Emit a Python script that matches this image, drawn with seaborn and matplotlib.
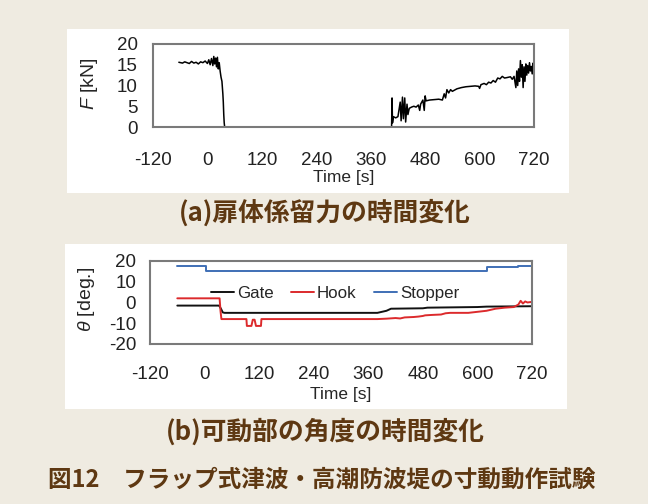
import matplotlib
matplotlib.use("Agg")
from matplotlib import pyplot as plt
from matplotlib.patches import Rectangle
import pandas as pd
import seaborn as sns

# (a) mooring force F [kN] vs time [s]
force_time = [-63, -55, -50, -45, -40, -35, -30, -25, -20, -15, -10, -5, 0, 3, 6, 9, 12, 14, 16, 18,
              20, 22, 24, 26, 28, 30, 32, 34, 35, 36, 37, 38, 406, 407, 408, 410, 415, 420, 425, 427,
              430, 432, 435, 437, 440, 442, 445, 450, 455, 460, 465, 468, 470, 475, 478, 480, 482, 490,
              500, 510, 518, 522, 525, 528, 532, 536, 540, 550, 560, 570, 580, 590, 598, 600, 603, 610,
              615, 620, 625, 630, 635, 640, 645, 650, 655, 660, 668, 672, 676, 680, 682, 684, 686, 688,
              690, 692, 694, 696, 698, 700, 702, 704, 706, 708, 710, 712, 714, 716, 718, 720]
force_kn = [15.6, 15.4, 15.7, 15.5, 15.3, 15.8, 15.4, 15.6, 15.2, 15.7, 15.5, 15.9, 15.3, 16.2, 15.0, 16.5,
            14.8, 17.0, 15.2, 16.6, 14.5, 16.8, 14.0, 15.5, 13.5, 12.0, 11.0, 8.0, 6.0, 3.0, 1.0, 0.0,
            0.0, 7.0, 1.0, 2.5, 2.2, 2.5, 6.0, 1.5, 7.2, 2.0, 7.0, 1.2, 5.5, 3.0, 4.5, 4.8, 5.0, 4.8,
            5.3, 4.0, 5.5, 6.5, 4.0, 7.5, 6.3, 6.5, 6.6, 6.7, 6.5, 8.0, 7.0, 9.0, 8.2, 9.0, 8.6, 9.2,
            9.5, 9.7, 9.8, 9.9, 9.8, 9.3, 10.2, 10.5, 10.2, 10.8, 10.6, 11.2, 10.8, 11.8, 11.6, 12.2,
            11.8, 11.9, 12.1, 11.5, 12.2, 9.5, 13.5, 10.0, 14.0, 11.0, 16.0, 12.0, 15.0, 9.5, 14.5,
            11.0, 15.2, 12.5, 14.8, 13.0, 15.5, 13.5, 14.6, 12.8, 15.4, 11.5]

# (b) angles theta [deg.] vs time [s]
gate_time = [-60, 32, 36, 40, 44, 380, 390, 400, 410, 480, 490, 600, 620, 720]
gate_deg = [-1.5, -1.5, -3.0, -4.8, -5.0, -5.0, -4.5, -4.0, -3.0, -2.8, -2.5, -2.2, -2.0, -1.8]

hook_time = [-60, 33, 35, 37, 92, 93, 103, 106, 110, 113, 124, 125, 380, 400, 420, 430, 440, 460, 470,
             480, 485, 500, 520, 530, 540, 580, 600, 620, 640, 660, 680, 690, 695, 700, 705, 710, 720]
hook_deg = [2.0, 2.0, -4.0, -8.0, -8.0, -11.3, -11.3, -8.3, -8.3, -11.3, -11.3, -8.0, -8.0, -7.8, -7.5,
            -7.7, -7.2, -7.0, -6.8, -6.5, -6.2, -6.0, -5.8, -5.2, -5.0, -5.0, -4.5, -4.0, -3.0, -2.5,
            -2.2, -1.0, 0.8, -0.5, 0.5, 0.0, 0.3]

stopper_time = [-60, 4, 4, 620, 620, 690, 690, 720]
stopper_deg = [17.8, 17.8, 15.0, 15.0, 17.2, 17.2, 17.6, 17.6]

series_names = ["Gate", "Hook", "Stopper"]
series_colors = ["#111111", "#dc2a2c", "#3f6fb5"]

x_ticks = [-120, 0, 120, 240, 360, 480, 600, 720]
caption_a = "(a)扉体係留力の時間変化"
caption_b = "(b)可動部の角度の時間変化"
caption_fig = "図12　フラップ式津波・高潮防波堤の寸動動作試験"

sns.set_style("white")
plt.rcParams["font.family"] = ["Liberation Sans", "DejaVu Sans"]
plt.rcParams["axes.unicode_minus"] = False
plt.rcParams["mathtext.fontset"] = "custom"
plt.rcParams["mathtext.it"] = "Liberation Sans:italic"
plt.rcParams["mathtext.rm"] = "Liberation Sans"

bg = "#efebe1"
brown = "#5e3812"
spine_col = "#7a7a7a"
fs = 13.5

fig = plt.figure(figsize=(6.48, 5.04), dpi=100, facecolor=bg)
fig.patches.append(Rectangle((0.1034, 0.617), 0.7747, 0.3254, transform=fig.transFigure,
                             facecolor="white", edgecolor="none", zorder=-5))
fig.patches.append(Rectangle((0.1003, 0.1885), 0.7747, 0.3274, transform=fig.transFigure,
                             facecolor="white", edgecolor="none", zorder=-5))

ax1 = fig.add_axes([0.2361, 0.748, 0.588, 0.1647])
ax2 = fig.add_axes([0.2315, 0.3175, 0.5895, 0.1647])

force_df = pd.DataFrame({"time": force_time, "F": force_kn})
sns.lineplot(data=force_df, x="time", y="F", color="black", lw=1.1,
             estimator=None, sort=False, ax=ax1)

angle_df = pd.concat([
    pd.DataFrame({"time": gate_time, "theta": gate_deg, "part": "Gate"}),
    pd.DataFrame({"time": hook_time, "theta": hook_deg, "part": "Hook"}),
    pd.DataFrame({"time": stopper_time, "theta": stopper_deg, "part": "Stopper"}),
])
sns.lineplot(data=angle_df, x="time", y="theta", hue="part", hue_order=series_names,
             palette=series_colors, lw=1.4, estimator=None, sort=False, ax=ax2)

for ax in (ax1, ax2):
    ax.set_facecolor("white")
    ax.set_xlim(-120, 720)
    ax.set_xticks(x_ticks)
    for s in ax.spines.values():
        s.set_color(spine_col)
        s.set_linewidth(1.5)
    ax.tick_params(direction="out", length=5, width=1.5, color=spine_col,
                   labelsize=fs, labelcolor="#222222")

ax1.tick_params(axis="x", pad=13)
ax1.tick_params(axis="y", pad=6)
ax2.tick_params(axis="x", pad=11)
ax2.tick_params(axis="y", pad=5)
ax1.set_xlabel("Time [s]", fontsize=12.5, labelpad=1)
ax2.set_xlabel("Time [s]", fontsize=12.5, labelpad=3)

ax1.set_ylim(0, 20)
ax1.set_yticks([0, 5, 10, 15, 20])
ax1.set_ylabel("$\\it{F}$ [kN]", fontsize=14)
ax1.yaxis.set_label_coords(-0.139, 0.52)

ax2.set_ylim(-20, 20)
ax2.set_yticks([-20, -10, 0, 10, 20])
ax2.set_ylabel("$\\it{\\theta}$ [deg.]", fontsize=14)
ax2.yaxis.set_label_coords(-0.139, 0.54)
ax2.legend(loc="center", bbox_to_anchor=(0.484, 0.61), ncol=3, frameon=False,
           fontsize=12.2, handlelength=1.4, handletextpad=0.15, columnspacing=1.0)

cjk = ["Noto Sans CJK JP", "DejaVu Sans"]
fig.text(0.502, 0.577, caption_a, ha="center", va="center", fontsize=18.5,
         fontweight="bold", color=brown, family=cjk)
fig.text(0.502, 0.143, caption_b, ha="center", va="center", fontsize=18.5,
         fontweight="bold", color=brown, family=cjk)
fig.text(0.497, 0.048, caption_fig, ha="center", va="center", fontsize=17,
         fontweight="bold", color=brown, family=cjk)

fig.savefig("out.png", dpi=100, facecolor=bg)
